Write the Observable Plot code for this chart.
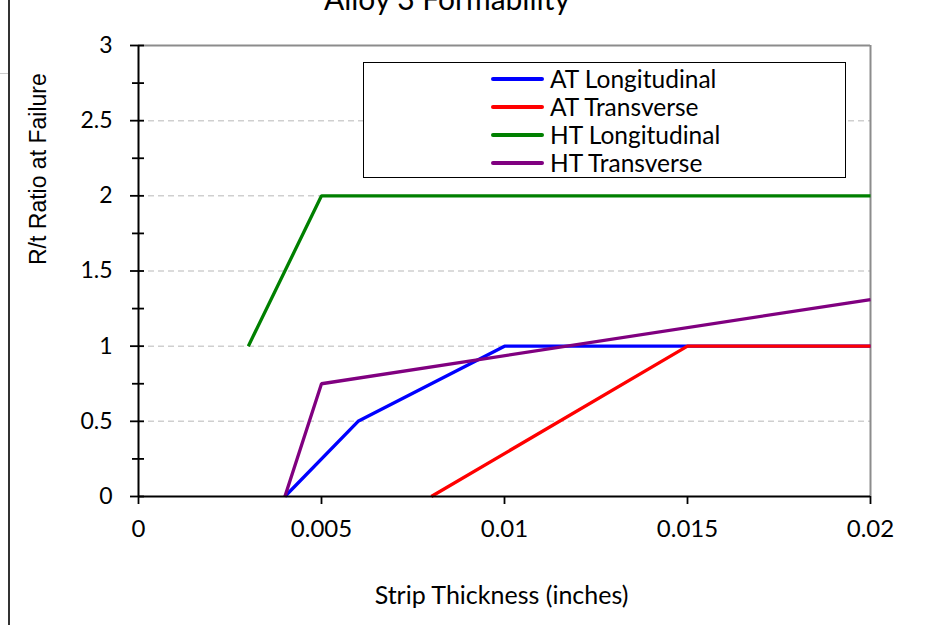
<!DOCTYPE html>
<html><head><meta charset="utf-8">
<script src="https://cdn.jsdelivr.net/npm/d3@7"></script>
<script src="https://cdn.jsdelivr.net/npm/@observablehq/plot@0.6"></script>
<style>
html,body{margin:0;padding:0;background:#fff;overflow:hidden;}
#wrap{position:relative;width:951px;height:625px;overflow:hidden;}
#title{position:absolute;left:0;width:894px;top:-19px;text-align:center;font-family:Lato,sans-serif;font-size:30px;line-height:34px;color:#000;}
#lborder{position:absolute;left:8px;top:0;width:2px;height:625px;background:#333;}
#gline{position:absolute;left:0;top:73px;width:8px;height:1px;background:#ccc;}
#legend{position:absolute;left:363px;top:62px;width:481px;height:114px;border:1.5px solid #000;background:#fff;font-family:Lato,sans-serif;font-size:24.5px;}
.row{position:absolute;left:0;height:28px;line-height:28px;white-space:nowrap;}
.sw{position:absolute;left:127px;top:12px;width:53px;height:4px;border-radius:2px;}
.lt{position:absolute;left:186px;top:0;}
#chart{position:absolute;left:0;top:0;}
</style></head><body>
<div id="wrap">
  <div id="chart"></div>
  <div id="lborder"></div>
  <div id="gline"></div>
  <div id="title"></div>
  <div id="legend"></div>
</div>
<script>
const titleText = "Alloy 3 Formability";
const xLabel = "Strip Thickness (inches)";
const yLabel = "R/t Ratio at Failure";
const seriesNames = ["AT Longitudinal", "AT Transverse", "HT Longitudinal", "HT Transverse"];
const seriesColors = ["#0000ff", "#ff0000", "#008000", "#800080"];
const atLongX = [0.004, 0.006, 0.01, 0.02];
const atLongY = [0, 0.5, 1, 1];
const atTransX = [0.008, 0.015, 0.02];
const atTransY = [0, 1, 1];
const htLongX = [0.003, 0.005, 0.02];
const htLongY = [1, 2, 2];
const htTransX = [0.004, 0.005, 0.02];
const htTransY = [0, 0.75, 1.31];
const xTicks = [0, 0.005, 0.01, 0.015, 0.02];
const xTickLabels = ["0", "0.005", "0.01", "0.015", "0.02"];
const yTicks = [0, 0.5, 1, 1.5, 2, 2.5, 3];
const yTickLabels = ["0", "0.5", "1", "1.5", "2", "2.5", "3"];
const yMinorTicks = [0.25, 0.75, 1.25, 1.75, 2.25, 2.75];
const yGrid = [0.5, 1, 1.5, 2, 2.5];

const seriesX = [atLongX, atTransX, htLongX, htTransX];
const seriesY = [atLongY, atTransY, htLongY, htTransY];
const rows = [];
seriesNames.forEach((name, s) => {
  seriesX[s].forEach((x, i) => rows.push({series: name, x, y: seriesY[s][i]}));
});

const chart = Plot.plot({
  width: 951,
  height: 625,
  marginLeft: 138,
  marginRight: 81,
  marginTop: 45,
  marginBottom: 129,
  style: {fontFamily: "Lato, sans-serif", fontSize: "23px", background: "#fff", color: "#000"},
  x: {domain: [0, 0.02], label: null},
  y: {domain: [0, 3], label: null},
  color: {domain: seriesNames, range: seriesColors},
  marks: [
    Plot.gridY(yGrid, {stroke: "#cfcfcf", strokeOpacity: 1, strokeWidth: 1.5, strokeDasharray: "6,4"}),
    Plot.ruleY([3], {stroke: "#8c8c8c", strokeWidth: 2}),
    Plot.ruleX([0.02], {stroke: "#8c8c8c", strokeWidth: 2}),
    Plot.line(rows, {x: "x", y: "y", z: "series", stroke: "series", strokeWidth: 3.3, strokeLinejoin: "miter", strokeLinecap: "butt"}),
    Plot.ruleX([0], {stroke: "#000", strokeWidth: 2, y1: 0, y2: 3}),
    Plot.ruleY([0], {stroke: "#000", strokeWidth: 2}),
    Plot.axisY({ticks: yTicks, tickFormat: (d, i) => yTickLabels[i], tickSize: 14, dx: 6, tickPadding: 18, strokeWidth: 1.8, label: null, fontSize: 23}),
    Plot.axisY({ticks: yMinorTicks, tickFormat: () => "", tickSize: 12, dx: 6, strokeWidth: 1.8, label: null}),
    Plot.axisX({ticks: xTicks, tickFormat: (d, i) => xTickLabels[i], tickSize: 8, tickPadding: 15, strokeWidth: 1.8, label: null, fontSize: 24}),
    Plot.text([xLabel], {frameAnchor: "bottom", dx: -3, dy: 99, lineAnchor: "middle", fontSize: 25}),
    Plot.text([yLabel], {frameAnchor: "left", rotate: -90, dx: -100, dy: -6, lineAnchor: "middle", fontSize: 23, fontFamily: "Liberation Sans, Arial, sans-serif"})
  ]
});
document.getElementById("chart").appendChild(chart);
document.getElementById("title").textContent = titleText;

const legend = document.getElementById("legend");
seriesNames.forEach((name, i) => {
  const row = document.createElement("div");
  row.className = "row";
  row.style.top = (1.5 + i * 28.3) + "px";
  row.style.width = "100%";
  const sw = document.createElement("div");
  sw.className = "sw";
  sw.style.background = seriesColors[i];
  const t = document.createElement("span");
  t.className = "lt";
  t.textContent = name;
  row.appendChild(sw);
  row.appendChild(t);
  legend.appendChild(row);
});
</script>
</body></html>
